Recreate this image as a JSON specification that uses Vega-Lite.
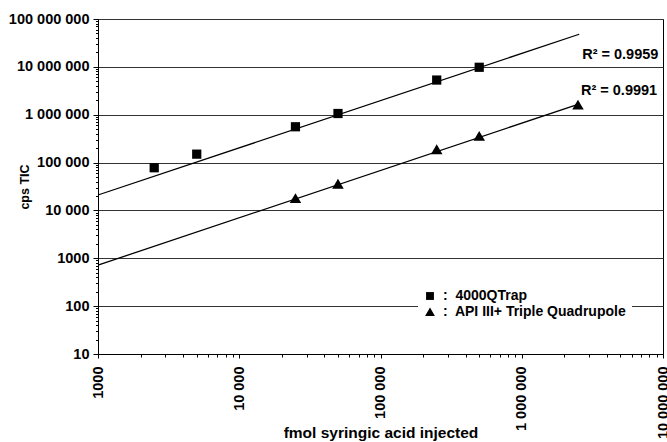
{
  "$schema": "https://vega.github.io/schema/vega-lite/v6.json",
  "width": 565,
  "height": 335,
  "autosize": "none",
  "padding": {"left": 98, "top": 19, "right": 4, "bottom": 88},
  "config": {
    "font": "Liberation Sans",
    "view": {"stroke": "#000", "strokeWidth": 1},
    "axis": {"domainColor": "#000", "tickColor": "#000", "labelColor": "#000", "titleColor": "#000"}
  },
  "datasets": {
    "points": [
      {"series": "4000QTrap", "fmol": 2500, "cps": 78000},
      {"series": "4000QTrap", "fmol": 5000, "cps": 150000},
      {"series": "4000QTrap", "fmol": 25000, "cps": 560000},
      {"series": "4000QTrap", "fmol": 50000, "cps": 1060000},
      {"series": "4000QTrap", "fmol": 250000, "cps": 5300000},
      {"series": "4000QTrap", "fmol": 500000, "cps": 9800000},
      {"series": "API III+ Triple Quadrupole", "fmol": 25000, "cps": 17800},
      {"series": "API III+ Triple Quadrupole", "fmol": 50000, "cps": 35500},
      {"series": "API III+ Triple Quadrupole", "fmol": 250000, "cps": 186000},
      {"series": "API III+ Triple Quadrupole", "fmol": 500000, "cps": 355000},
      {"series": "API III+ Triple Quadrupole", "fmol": 2500000, "cps": 1600000}
    ],
    "fits": [
      {"series": "4000QTrap", "fmol": 1000, "cps": 21000, "r2": ""},
      {"series": "4000QTrap", "fmol": 2550000, "cps": 48000000, "r2": "R² = 0.9959"},
      {"series": "API III+ Triple Quadrupole", "fmol": 1000, "cps": 720, "r2": ""},
      {"series": "API III+ Triple Quadrupole", "fmol": 2500000, "cps": 1650000, "r2": "R² = 0.9991"}
    ]
  },
  "encoding": {
    "x": {
      "field": "fmol", "type": "quantitative",
      "scale": {"type": "log", "domain": [1000, 10000000], "nice": false},
      "axis": {
        "title": "fmol syringic acid injected",
        "titleFontSize": 15.5, "titleFontWeight": "bold",
        "titleBaseline": "middle", "titleY": 78,
        "values": [1000,2000,3000,4000,5000,6000,7000,8000,9000,10000,20000,30000,40000,50000,60000,70000,80000,90000,100000,200000,300000,400000,500000,600000,700000,800000,900000,1000000,2000000,3000000,4000000,5000000,6000000,7000000,8000000,9000000,10000000],
        "labelExpr": "abs(log(datum.value)/LN10 - round(log(datum.value)/LN10)) < 0.000001 ? (datum.value == 1000 ? '1000' : replace(format(datum.value, ','), regexp(',', 'g'), ' ')) : ''",
        "labelAngle": -90,
        "labelFontSize": 14.5, "labelFontWeight": "bold",
        "labelOverlap": false, "labelFlush": false, "labelBound": false,
        "labelPadding": 8,
        "tickSize": {"condition": {"test": "abs(log(datum.value)/LN10 - round(log(datum.value)/LN10)) < 0.000001", "value": 4}, "value": 3},
        "grid": false
      }
    },
    "y": {
      "field": "cps", "type": "quantitative",
      "scale": {"type": "log", "domain": [10, 100000000], "nice": false},
      "axis": {
        "title": "cps TIC",
        "titleFontSize": 12.5, "titleFontWeight": "bold",
        "titleBaseline": "middle", "titleX": -74,
        "values": [10,20,30,40,50,60,70,80,90,100,200,300,400,500,600,700,800,900,1000,2000,3000,4000,5000,6000,7000,8000,9000,10000,20000,30000,40000,50000,60000,70000,80000,90000,100000,200000,300000,400000,500000,600000,700000,800000,900000,1000000,2000000,3000000,4000000,5000000,6000000,7000000,8000000,9000000,10000000,20000000,30000000,40000000,50000000,60000000,70000000,80000000,90000000,100000000],
        "labelExpr": "abs(log(datum.value)/LN10 - round(log(datum.value)/LN10)) < 0.000001 ? (datum.value == 1000 ? '1000' : replace(format(datum.value, ','), regexp(',', 'g'), ' ')) : ''",
        "labelFontSize": 14.5, "labelFontWeight": "bold",
        "labelOverlap": false, "labelFlush": false, "labelBound": false,
        "labelPadding": 4,
        "tickSize": {"condition": {"test": "abs(log(datum.value)/LN10 - round(log(datum.value)/LN10)) < 0.000001", "value": 5}, "value": 2.5},
        "grid": true,
        "gridColor": "#333",
        "gridWidth": 1,
        "gridOpacity": {"condition": {"test": "abs(log(datum.value)/LN10 - round(log(datum.value)/LN10)) < 0.000001", "value": 1}, "value": 0}
      }
    }
  },
  "layer": [
    {
      "data": {"name": "fits"},
      "mark": {"type": "line", "color": "#000", "strokeWidth": 1.3},
      "encoding": {"detail": {"field": "series"}}
    },
    {
      "data": {"name": "points"},
      "mark": {"type": "point", "filled": true, "color": "#000", "opacity": 1, "size": 85},
      "encoding": {
        "shape": {
          "field": "series", "type": "nominal",
          "scale": {"domain": ["4000QTrap", "API III+ Triple Quadrupole"], "range": ["M-1,-1H1V1H-1Z", "M0,-1.15L1.25,1L-1.25,1Z"]},
          "legend": {
            "title": null,
            "orient": "none", "legendX": 320, "legendY": 265,
            "fillColor": "#fff", "padding": 5,
            "labelFontSize": 14, "labelFontWeight": "bold", "labelColor": "#000",
            "labelExpr": "':\u00a0 ' + datum.label",
            "labelLimit": 300, "labelOffset": 6,
            "symbolSize": 62, "symbolFillColor": "#000", "symbolStrokeColor": "#000", "symbolStrokeWidth": 0,
            "rowPadding": 2
          }
        }
      }
    },
    {
      "data": {"name": "fits"},
      "transform": [{"filter": "datum.series == '4000QTrap' && datum.r2 != ''"}],
      "mark": {"type": "text", "align": "left", "baseline": "middle", "dx": 3, "dy": 21, "fontSize": 14.5, "fontWeight": "bold", "color": "#000"},
      "encoding": {"text": {"field": "r2"}}
    },
    {
      "data": {"name": "fits"},
      "transform": [{"filter": "datum.series != '4000QTrap' && datum.r2 != ''"}],
      "mark": {"type": "text", "align": "left", "baseline": "middle", "dx": 3, "dy": -13, "fontSize": 14.5, "fontWeight": "bold", "color": "#000"},
      "encoding": {"text": {"field": "r2"}}
    }
  ]
}
